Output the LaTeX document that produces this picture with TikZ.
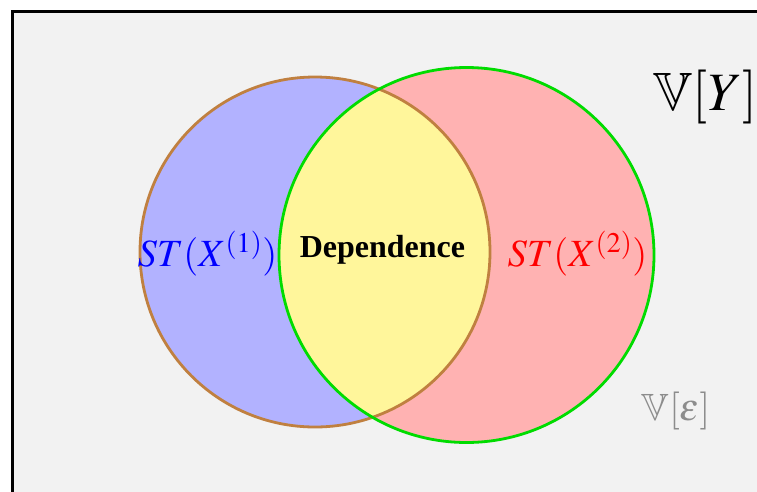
\documentclass[tikz,border=0pt]{standalone}
\usepackage{amssymb}
\usepackage{mathptmx}
\usepackage[no-math]{fontspec}
\setmainfont{Liberation Serif}
\definecolor{bgray}{RGB}{242,242,242}
\definecolor{interY}{RGB}{255,246,155}
\definecolor{brownB}{RGB}{192,128,64}
\definecolor{greenB}{RGB}{0,220,0}
\begin{document}
\begin{tikzpicture}[x=1pt,y=-1pt,
  circ/.style={line width=2.8pt},
  lbl/.style={inner sep=0pt, anchor=center}]
\useasboundingbox (0,0) rectangle (757,491);
\clip (0,0) rectangle (757,491);
\fill[white] (0,0) rectangle (757,491);
\draw[line width=3.2pt, fill=bgray] (12.5,11.5) rectangle (800,540);
\coordinate (cl) at (315,252);
\coordinate (cr) at (466.5,255);
\fill[blue!30] (cl) circle (175);
\fill[red!30] (cr) circle (187.5);
\begin{scope}
  \clip (cl) circle (175);
  \fill[interY] (cr) circle (187.5);
\end{scope}
\draw[circ, draw=brownB] (cl) circle (175);
\draw[circ, draw=greenB] (cr) circle (187.5);
\node[lbl, font=\bfseries\fontsize{32}{34}\selectfont] (dep) at (382.5,250) {Dependence};
\node[lbl, blue, font=\fontsize{38.5}{40}\selectfont] (s1) at (207.5,254) {$ST(X^{(1)})$};
\node[lbl, red, font=\fontsize{38.5}{40}\selectfont] (s2) at (577.5,254) {$ST(X^{(2)})$};
\node[lbl, font=\fontsize{54}{56}\selectfont] (vy) at (705.5,97) {$\mathbb{V}[Y]$};
\node[lbl, black!45, font=\fontsize{38}{40}\selectfont] (ve) at (676,411) {$\mathbb{V}[\varepsilon]$};
\end{tikzpicture}
\end{document}
